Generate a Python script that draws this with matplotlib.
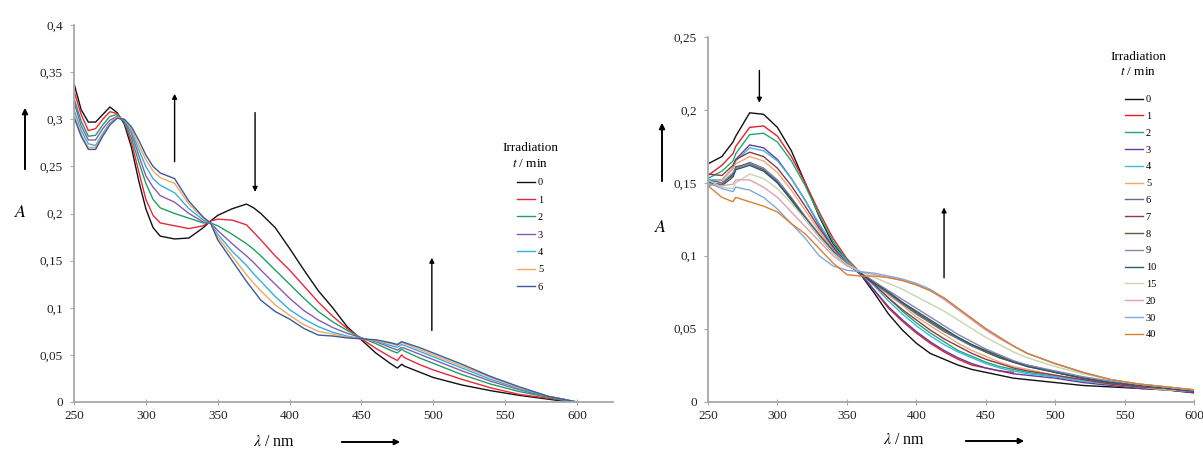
import numpy as np
import matplotlib
matplotlib.use("Agg")
import matplotlib.pyplot as plt
from matplotlib.patches import FancyArrowPatch
from matplotlib.ticker import FuncFormatter

plt.rcParams['font.family'] = ['Liberation Serif', 'DejaVu Serif']
plt.rcParams['mathtext.fontset'] = 'stix'

# ---------------- left panel data ----------------
wl_left = [250, 255, 260, 265, 270, 275, 280, 285, 290, 295, 300, 305, 310, 320, 330, 340, 345,
           350, 360, 370, 375, 380, 390, 400, 410, 420, 430, 440, 450, 460, 470, 475, 478, 480,
           490, 500, 520, 540, 560, 570, 580, 590, 600]
left_labels = ['0', '1', '2', '3', '4', '5', '6']
left_colors = ['#111111', '#e8283a', '#20a060', '#8a5ab0', '#30b0e0', '#f0a860', '#3a5a9a']
L0 = [.338, .310, .297, .297, .305, .313, .307, .295, .270, .235, .205, .185, .176, .173, .174, .185, .192,
      .198, .205, .210, .206, .200, .185, .163, .140, .118, .100, .080, .066, .052, .041, .036, .040, .038,
      .032, .026, .018, .012, .007, .005, .003, .001, .000]
L1 = [.330, .305, .288, .290, .300, .308, .306, .297, .275, .245, .215, .198, .190, .187, .184, .187, .192,
      .194, .193, .188, .180, .172, .155, .140, .123, .106, .091, .078, .067, .057, .048, .044, .050, .047,
      .040, .034, .024, .015, .008, .006, .004, .002, .000]
L2 = [.322, .298, .282, .283, .294, .303, .305, .297, .280, .255, .232, .215, .206, .200, .195, .190, .190,
      .187, .178, .168, .162, .155, .140, .125, .110, .096, .085, .076, .068, .062, .055, .052, .056, .054,
      .047, .041, .029, .019, .011, .008, .005, .002, .000]
L3 = [.318, .293, .278, .278, .290, .299, .303, .298, .285, .262, .240, .228, .219, .212, .200, .191, .190,
      .182, .168, .155, .148, .140, .125, .110, .097, .087, .079, .073, .068, .064, .058, .055, .058, .057,
      .051, .045, .033, .022, .013, .009, .006, .003, .000]
L4 = [.310, .288, .274, .272, .285, .296, .302, .299, .288, .268, .250, .237, .230, .222, .205, .193, .190,
      .178, .160, .145, .136, .128, .112, .098, .088, .080, .074, .070, .067, .065, .060, .058, .061, .060,
      .054, .048, .036, .024, .014, .010, .006, .003, .000]
L5 = [.305, .284, .270, .270, .283, .295, .302, .300, .290, .273, .257, .245, .238, .232, .210, .195, .190,
      .175, .155, .135, .126, .118, .103, .092, .082, .075, .072, .069, .067, .065, .062, .060, .063, .062,
      .056, .050, .038, .026, .015, .011, .006, .003, .000]
L6 = [.302, .282, .268, .268, .282, .294, .301, .300, .292, .278, .262, .250, .243, .237, .213, .196, .190,
      .172, .150, .128, .118, .108, .096, .088, .078, .071, .070, .068, .067, .066, .063, .061, .064, .063,
      .058, .052, .040, .027, .016, .011, .006, .003, .000]
left_series = [L0, L1, L2, L3, L4, L5, L6]

# ---------------- right panel data ----------------
wl_right = [250, 260, 268, 270, 280, 290, 300, 310, 320, 330, 340, 350, 360, 370, 380, 390, 400,
            410, 420, 430, 440, 450, 460, 470, 480, 500, 520, 540, 560, 580, 600]
right_labels = ['0', '1', '2', '3', '4', '5', '6', '7', '8', '9', '10', '15', '20', '30', '40']
right_colors = ['#111111', '#e0202a', '#20a870', '#6a3a9a', '#40b8e0', '#f0a870', '#5a7090', '#8a3a4a',
                '#5e5e3a', '#8a84b0', '#2a5a70', '#c8d4b0', '#e0a0b0', '#80a8e0', '#d88030']
nan = np.nan
R0 = [.163, .168, .178, .182, .198, .197, .188, .172, .150, .127, .108, .097, .087, .074, .060, .049, .040,
      .033, .029, .025, .022, .020, .018, .016, .015, .013, .011, .010, .009, .008, .006]
R1 = [.155, .162, .170, .175, .188, .189, .182, .168, .150, .130, .112, .098, .088, .076, .064, .055, .047,
      .040, .034, .029, .025, .023, .021, .020, nan, nan, nan, nan, nan, nan, nan]
R2 = [.153, .158, .165, .170, .183, .184, .178, .165, .148, .128, .110, .097, .088, .080, .071, .062, .054,
      .047, .041, .035, .031, .027, .024, .022, .020, .017, .014, .012, .010, .008, .007]
R3 = [.150, .152, .160, .166, .176, .174, .166, .153, .138, .121, .106, .095, .087, .076, .065, .056, .048,
      .041, .035, .030, .026, .023, .021, .019, .018, .016, .013, .011, .009, .008, .006]
R4 = [.152, .152, .160, .165, .174, .172, .165, .153, .138, .122, .107, .096, .088, .079, .069, .060, .052,
      .045, .039, .034, .030, .026, .023, .021, .019, .017, .014, .012, .010, .008, .007]
R5 = [.150, .152, .160, .163, .168, .165, .157, .145, .131, .117, .105, .095, .088, .081, .073, .066, .058,
      .052, .046, .040, .035, .031, .027, .024, .022, .018, .015, .012, .010, .008, .007]
R6 = [.152, .150, .155, .160, .164, .160, .151, .139, .126, .114, .103, .094, .088, .081, .074, .067, .060,
      .054, .048, .043, .038, .034, .030, .027, .024, .020, .016, .013, .011, .009, .007]
R7 = [.156, .155, .162, .166, .171, .168, .160, .148, .134, .119, .106, .095, .088, .080, .071, .063, .056,
      .049, .043, .038, .033, .029, .026, .023, .021, .018, .015, .012, .010, .009, .007]
R8 = [.150, .149, .156, .161, .163, .159, .150, .138, .125, .113, .102, .094, .088, .082, .075, .068, .061,
      .055, .049, .044, .039, .034, .030, .027, .025, .020, .016, .013, .011, .009, .007]
R9 = [.148, .150, .157, .160, .163, .160, .152, .140, .127, .115, .104, .095, .088, .082, .076, .070, .064,
      .058, .052, .046, .041, .036, .032, .028, .025, .021, .017, .014, .011, .009, .007]
R10 = [.151, .148, .154, .159, .162, .158, .150, .139, .126, .114, .103, .094, .088, .081, .075, .068, .062,
       .056, .050, .044, .039, .035, .031, .027, .024, .020, .016, .013, .011, .009, .007]
R15 = [.152, .147, .146, .150, .156, .153, .146, .136, .125, .113, .102, .094, .089, .085, .081, .077, .072,
       .067, .062, .056, .050, .044, .039, .034, .030, .024, .019, .015, .012, .010, .008]
R20 = [.149, .148, .149, .152, .152, .147, .140, .130, .120, .110, .100, .093, .089, .087, .085, .083, .080,
       .076, .070, .063, .056, .049, .043, .038, .033, .026, .020, .015, .012, .010, .008]
R30 = [.150, .146, .144, .147, .145, .140, .132, .122, .112, .100, .093, .090, .089, .088, .086, .084, .081,
       .077, .071, .064, .057, .050, .044, .038, .033, .026, .020, .015, .012, .010, .008]
R40 = [.148, .140, .137, .140, .137, .134, .130, .122, .115, .105, .095, .087, .086, .086, .085, .083, .080,
       .076, .071, .064, .057, .050, .044, .038, .033, .026, .020, .015, .012, .010, .008]
right_series = [R0, R1, R2, R3, R4, R5, R6, R7, R8, R9, R10, R15, R20, R30, R40]


def comma(v, pos):
    return ('%g' % round(v, 4)).replace('.', ',')


def style_axis(ax, ymax, xmax):
    ax.set_xlim(250, xmax)
    ax.set_ylim(0, ymax)
    ax.set_xticks(np.arange(250, 601, 50))
    ax.set_yticks(np.arange(0, ymax + 1e-9, 0.05))
    ax.yaxis.set_major_formatter(FuncFormatter(comma))
    for s in ['top', 'right']:
        ax.spines[s].set_visible(False)
    for s in ['left', 'bottom']:
        ax.spines[s].set_color('#a8a8a8')
        ax.spines[s].set_linewidth(1.3)
    ax.tick_params(axis='y', direction='out', length=3, color='#a8a8a8', labelsize=9.5, pad=5,
                   labelcolor='#222222')
    ax.tick_params(axis='x', direction='inout', length=4, color='#a8a8a8', labelsize=9.5, pad=4,
                   labelcolor='#222222')


fw, fh = 1203.0, 449.0
fig = plt.figure(figsize=(fw / 100, fh / 100), dpi=100)
# left panel: 250 nm at x=74, 600 nm at x=577, axis line runs on to x=613
ax1 = fig.add_axes([74 / fw, 1 - 402 / fh, (613 - 74) / fw, (402 - 25) / fh])
ax2 = fig.add_axes([708 / fw, 1 - 401.5 / fh, (1194 - 708) / fw, (401.5 - 37) / fh])

for y, lab, c in zip(left_series, left_labels, left_colors):
    ax1.plot(wl_left, y, color=c, lw=1.0, label=lab)
for y, lab, c in zip(right_series, right_labels, right_colors):
    ax2.plot(wl_right, y, color=c, lw=1.0, label=lab)

style_axis(ax1, 0.4, 250 + (613 - 74) * 350 / (577 - 74))
style_axis(ax2, 0.25, 600)

# legends: title drawn as text, entries as a frameless legend
for ax, (tx, ty1, ty2), (hx, hy), sp in [(ax1, (530, 148, 164), (517, 178), 0.78),
                                        (ax2, (1138, 57, 72), (1125, 95), 0.72)]:
    fig.text(tx / fw, 1 - ty1 / fh, 'Irradiation', fontsize=9.5, ha='center', va='center')
    fig.text(tx / fw, 1 - ty2 / fh, '$t$ / min', fontsize=9.5, ha='center', va='center')
    ax.legend(loc='upper left', bbox_to_anchor=(hx / fw, 1 - hy / fh), bbox_transform=fig.transFigure,
              frameon=False, fontsize=7.5, handlelength=1.75, handletextpad=0.25,
              labelspacing=sp, borderpad=0, borderaxespad=0)

# arrows inside the panels
arr = dict(arrowstyle='-|>', color='black', lw=1.0, mutation_scale=7)
ax1.annotate('', xy=(320, 0.330), xytext=(320, 0.252), arrowprops=arr)
ax1.annotate('', xy=(376, 0.220), xytext=(376, 0.310), arrowprops=arr)
ax1.annotate('', xy=(499, 0.156), xytext=(499, 0.073), arrowprops=arr)
ax2.annotate('', xy=(287, 0.203), xytext=(287, 0.229), arrowprops=arr)
ax2.annotate('', xy=(420, 0.135), xytext=(420, 0.083), arrowprops=arr)

# axis labels with direction arrows
big = dict(arrowstyle='-|>', color='black', lw=1.4, mutation_scale=8)
for (ax_x, ax_y, arx, ay0, ay1), (lx, ly, ar0, ar1, ary) in [
        ((21, 212, 25, 172, 105), (274, 442, 339, 403, 442)),
        ((661, 228, 662, 184, 120), (904, 440, 963, 1027, 441))]:
    fig.text(ax_x / fw, 1 - ax_y / fh, '$A$', fontsize=13, ha='center', va='center')
    fig.text(lx / fw, 1 - ly / fh, r'$\lambda$ / nm', fontsize=11.5, ha='center', va='center')
    fig.add_artist(FancyArrowPatch((arx / fw, 1 - ay0 / fh), (arx / fw, 1 - ay1 / fh),
                                   transform=fig.transFigure, **big))
    fig.add_artist(FancyArrowPatch((ar0 / fw, 1 - ary / fh), (ar1 / fw, 1 - ary / fh),
                                   transform=fig.transFigure, **big))

fig.savefig('out.png', dpi=100)
